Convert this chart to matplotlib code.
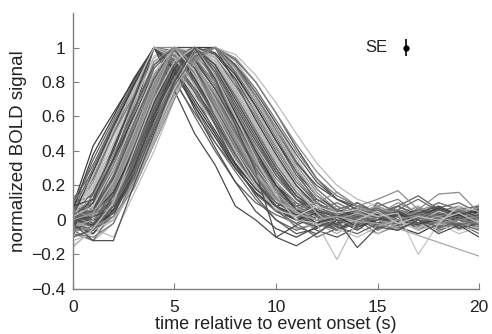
import matplotlib
matplotlib.use("Agg")
import matplotlib.pyplot as plt

plt.rcParams['font.family'] = ['Liberation Sans', 'DejaVu Sans']

time_s = list(range(21))

# normalized BOLD responses, one list per trace (t = 0..20 s)
peak4 = [
    [0.08,0.43,0.62,0.81,1.00,0.88,0.70,0.52,0.33,0.18,0.08,0.02,0.05,0.00,-0.03,0.04,0.02,-0.02,0.03,0.00,-0.04],
    [0.05,0.30,0.55,0.78,1.00,0.82,0.60,0.40,0.22,0.10,0.03,-0.02,0.04,0.06,0.00,-0.04,0.02,0.05,0.01,-0.03,0.02],
    [0.00,0.20,0.48,0.74,1.00,0.90,0.72,0.55,0.35,0.18,0.06,0.00,-0.05,0.02,0.08,0.03,-0.02,0.00,0.06,0.04,0.00],
    [-0.05,0.15,0.40,0.70,1.00,0.75,0.50,0.32,0.08,0.00,-0.10,-0.03,0.02,-0.05,0.00,0.05,-0.02,0.03,-0.04,0.00,0.03],
    [0.10,0.25,0.50,0.72,1.00,0.95,0.80,0.62,0.42,0.25,0.12,0.05,0.00,0.03,-0.02,0.06,0.03,0.00,0.08,0.02,-0.02],
    [0.02,0.12,0.35,0.68,1.00,0.85,0.66,0.45,0.28,0.12,0.00,-0.06,-0.02,0.04,0.01,-0.05,0.00,0.07,0.02,-0.03,0.05],
    [-0.08,0.05,0.30,0.62,1.00,0.92,0.76,0.58,0.38,0.20,0.08,0.10,0.02,-0.04,0.05,0.00,0.04,-0.06,0.00,0.05,0.01],
    [0.06,0.35,0.58,0.80,1.00,0.80,0.62,0.45,0.30,0.15,0.05,0.00,0.06,0.02,-0.03,0.10,0.04,0.00,-0.02,0.06,0.03],
    [0.03,0.18,0.45,0.75,1.00,0.97,0.85,0.65,0.45,0.28,0.14,0.05,-0.03,0.00,0.05,0.02,-0.04,0.03,0.00,-0.02,0.04],
    [-0.03,0.10,0.42,0.70,1.00,0.88,0.64,0.42,0.22,0.05,-0.05,-0.10,-0.04,0.00,-0.06,0.02,0.00,-0.03,0.04,-0.05,-0.02],
    [0.04,0.22,0.50,0.78,1.00,1.00,0.82,0.60,0.40,0.22,0.10,0.04,0.00,0.06,0.03,-0.02,0.05,0.02,-0.03,0.04,0.00],
    [0.12,0.28,0.52,0.80,1.00,0.93,0.74,0.50,0.30,0.16,0.06,0.02,0.08,0.04,0.10,0.03,0.06,0.12,0.05,0.08,0.02],
    [0.06,0.38,0.60,0.82,1.00,0.86,0.66,0.48,0.30,0.16,0.06,0.00,0.03,-0.02,0.04,0.00,0.05,0.02,-0.03,0.02,0.00],
    [0.10,0.32,0.56,0.79,1.00,0.90,0.74,0.56,0.38,0.22,0.10,0.04,0.00,0.05,0.02,0.07,0.00,0.04,0.06,0.01,0.03],
    [0.00,0.26,0.52,0.76,1.00,0.94,0.78,0.60,0.40,0.24,0.12,0.05,0.02,-0.03,0.00,0.04,-0.02,0.00,0.05,0.02,-0.01],
    [0.04,0.16,0.42,0.72,1.00,0.98,0.88,0.70,0.50,0.32,0.18,0.08,0.03,0.00,0.06,0.02,0.04,-0.02,0.00,0.03,0.06],
    [-0.04,0.08,0.36,0.66,1.00,0.96,0.82,0.64,0.44,0.26,0.12,0.02,-0.04,0.02,-0.02,0.00,0.03,-0.04,0.02,0.00,-0.03],
    [0.05,0.24,0.50,0.76,1.00,0.92,0.76,0.56,0.36,0.20,0.08,0.02,-0.02,0.03,0.00,-0.03,0.02,0.04,0.00,0.02,-0.02],
    [0.02,0.28,0.54,0.78,1.00,0.87,0.68,0.50,0.32,0.18,0.08,0.03,0.06,0.00,0.04,0.08,0.02,0.00,0.04,0.00,0.05],
]
peak5 = [
    [0.00,0.05,0.25,0.52,0.80,1.00,0.85,0.65,0.45,0.25,0.10,0.03,-0.02,0.04,0.00,-0.05,0.03,0.01,-0.02,0.05,0.00],
    [-0.05,-0.02,0.18,0.45,0.75,1.00,0.90,0.72,0.50,0.30,0.14,0.05,0.00,-0.04,0.02,0.06,0.00,-0.03,0.04,0.00,-0.05],
    [0.05,0.10,0.30,0.58,0.82,1.00,0.80,0.58,0.38,0.20,0.06,-0.04,-0.08,0.00,0.05,-0.02,0.03,0.08,0.00,0.02,0.06],
    [0.02,0.00,0.20,0.48,0.78,1.00,0.95,0.78,0.56,0.35,0.18,0.08,0.02,0.05,-0.02,0.03,0.10,0.04,-0.01,0.03,0.00],
    [-0.10,-0.05,0.15,0.40,0.70,1.00,0.88,0.66,0.44,0.22,0.05,-0.02,-0.10,-0.05,0.00,-0.08,-0.03,0.00,-0.06,-0.02,-0.08],
    [0.08,0.12,0.35,0.60,0.85,1.00,0.82,0.62,0.40,0.22,0.08,0.00,0.04,-0.03,0.06,0.00,-0.04,0.02,0.07,0.03,0.05],
    [0.00,-0.08,0.10,0.38,0.72,1.00,0.92,0.70,0.48,0.26,0.12,0.02,-0.04,0.03,0.00,0.05,0.02,-0.05,0.00,0.04,-0.03],
    [0.03,0.08,0.28,0.55,0.80,1.00,0.86,0.68,0.50,0.32,0.16,0.06,0.00,-0.02,0.04,0.00,0.06,0.02,-0.04,0.01,0.04],
    [-0.02,0.02,0.22,0.50,0.78,1.00,0.78,0.55,0.32,0.14,0.00,-0.08,-0.05,0.02,-0.03,0.04,0.00,-0.06,0.02,0.00,-0.04],
    [0.06,0.00,0.18,0.46,0.76,1.00,0.94,0.80,0.60,0.40,0.22,0.10,0.04,0.00,0.07,0.03,0.00,0.05,0.10,0.06,0.02],
    [-0.06,-0.12,0.05,0.35,0.68,1.00,0.90,0.74,0.52,0.30,0.12,0.04,0.00,-0.06,-0.02,0.02,-0.05,0.00,0.03,-0.03,0.00],
    [0.00,0.04,0.20,0.48,0.78,1.00,1.00,0.80,0.58,0.36,0.18,0.08,0.02,0.06,0.00,0.04,-0.02,0.03,0.00,0.06,0.02],
    [0.10,0.06,0.26,0.56,0.84,1.00,0.84,0.64,0.42,0.24,0.10,0.05,0.10,0.04,0.00,0.08,0.12,0.03,0.05,0.00,0.07],
    [-0.04,0.03,0.24,0.50,0.76,1.00,0.92,0.70,0.46,0.24,0.08,-0.05,-0.02,-0.08,0.00,-0.04,0.02,-0.02,-0.07,0.00,-0.03],
    [0.02,-0.04,0.14,0.42,0.74,1.00,0.88,0.68,0.48,0.28,0.13,0.06,0.02,0.00,0.04,-0.02,0.05,0.00,0.02,-0.04,0.03],
    [0.02,0.14,0.38,0.64,0.92,1.00,0.86,0.66,0.46,0.28,0.14,0.06,0.00,0.03,0.05,0.00,-0.02,0.04,0.02,0.06,0.00],
    [0.07,0.20,0.44,0.70,0.95,1.00,0.90,0.72,0.52,0.34,0.18,0.08,0.04,0.08,0.02,0.06,0.03,0.00,0.05,0.02,0.07],
    [-0.02,0.06,0.30,0.58,0.88,1.00,0.92,0.76,0.56,0.36,0.20,0.10,0.03,0.00,-0.03,0.02,0.00,0.05,-0.02,0.00,0.02],
    [0.00,0.10,0.32,0.62,0.90,1.00,0.96,0.82,0.62,0.42,0.24,0.12,0.05,0.02,0.00,0.04,0.06,0.02,0.00,-0.02,0.03],
    [0.05,0.02,0.16,0.44,0.74,1.00,0.97,0.84,0.66,0.46,0.28,0.14,0.06,0.00,0.04,0.08,0.02,0.00,0.04,0.07,0.02],
    [0.02,0.12,0.36,0.64,0.90,1.00,0.80,0.60,0.40,0.22,0.08,0.00,-0.04,0.00,0.02,-0.02,0.04,0.00,0.06,0.02,-0.02],
    [-0.05,0.04,0.26,0.54,0.82,1.00,0.88,0.70,0.50,0.30,0.14,0.04,-0.02,-0.06,0.00,0.03,-0.03,0.02,0.00,-0.05,0.01],
    [0.08,0.18,0.40,0.68,0.94,1.00,0.84,0.64,0.44,0.26,0.12,0.06,0.08,0.02,0.05,0.10,0.04,0.08,0.02,0.04,0.09],
    [0.00,0.06,0.24,0.52,0.80,1.00,0.93,0.76,0.54,0.34,0.16,0.06,0.00,0.02,-0.02,0.00,0.03,0.00,-0.03,0.02,0.00],
    [0.03,0.10,0.34,0.62,0.88,1.00,0.86,0.68,0.50,0.32,0.18,0.08,0.02,0.06,0.00,0.04,0.02,-0.02,0.03,0.00,0.02],
    [-0.04,0.00,0.20,0.48,0.78,1.00,0.90,0.74,0.54,0.34,0.16,0.05,-0.02,0.00,0.04,0.00,-0.04,0.00,0.02,-0.02,0.00],
    [-0.06,0.00,0.16,0.44,0.76,1.00,0.94,0.78,0.58,0.38,0.20,0.08,0.00,-0.05,-0.02,0.02,-0.04,-0.08,-0.02,0.00,-0.03],
    [0.10,0.14,0.30,0.56,0.82,1.00,0.90,0.72,0.52,0.32,0.16,0.08,0.12,0.06,0.10,0.04,0.08,0.03,0.10,0.06,0.08],
]
peak6 = [
    [0.00,-0.05,-0.10,0.15,0.40,0.70,1.00,0.95,0.78,0.58,0.38,0.20,0.08,0.02,-0.02,0.03,0.00,0.05,-0.03,0.02,0.00],
    [0.04,-0.02,0.08,0.32,0.62,0.86,1.00,0.88,0.68,0.48,0.28,0.12,0.04,0.00,0.06,0.02,-0.03,0.04,0.00,0.05,0.02],
    [-0.08,-0.10,-0.02,0.25,0.55,0.82,1.00,0.90,0.72,0.52,0.32,0.16,0.05,-0.02,0.03,-0.04,0.00,0.02,-0.05,0.00,-0.02],
    [0.02,0.05,0.10,0.36,0.64,0.88,1.00,0.84,0.62,0.40,0.20,0.06,-0.02,0.00,-0.05,0.02,0.04,-0.03,0.02,0.05,0.00],
    [-0.02,-0.06,0.02,0.28,0.58,0.84,1.00,0.96,0.82,0.62,0.42,0.24,0.10,0.04,0.00,0.06,0.02,0.00,0.04,-0.02,0.03],
    [0.06,0.00,0.12,0.38,0.66,0.90,1.00,0.86,0.64,0.44,0.26,0.12,0.06,0.10,0.04,0.00,0.08,0.14,0.06,0.02,0.08],
    [-0.12,-0.08,0.00,0.22,0.50,0.78,1.00,0.92,0.74,0.54,0.34,0.18,0.06,0.00,-0.04,-0.08,-0.02,-0.05,0.00,-0.06,-0.03],
    [0.00,0.02,0.06,0.30,0.60,0.85,1.00,0.90,0.70,0.50,0.30,0.14,0.05,0.02,0.06,0.03,-0.01,0.04,0.08,0.03,0.06],
    [0.03,-0.04,0.04,0.26,0.56,0.80,1.00,0.94,0.76,0.56,0.36,0.20,0.08,0.03,0.00,0.04,0.06,0.00,-0.03,0.02,0.05],
    [-0.05,0.00,0.08,0.34,0.62,0.87,1.00,0.82,0.60,0.38,0.18,0.04,-0.04,-0.02,0.02,-0.06,0.00,0.03,-0.02,0.00,-0.05],
    [0.00,-0.03,0.05,0.28,0.56,0.82,1.00,1.00,0.80,0.58,0.38,0.20,0.08,0.02,0.00,0.05,0.02,-0.02,0.03,0.00,0.02],
    [0.08,0.04,0.14,0.40,0.68,0.90,1.00,0.88,0.66,0.46,0.28,0.14,0.06,0.02,0.08,0.05,0.00,0.03,0.07,0.10,0.04],
    [-0.15,-0.06,0.00,0.20,0.50,0.76,1.00,0.94,0.76,0.56,0.36,0.18,0.04,-0.05,-0.10,-0.04,0.00,-0.06,-0.02,-0.08,-0.04],
    [0.02,0.06,0.16,0.42,0.70,0.92,1.00,0.80,0.56,0.34,0.16,0.02,-0.06,-0.10,-0.04,0.00,-0.03,0.02,-0.05,0.00,-0.02],
    [-0.06,-0.02,0.12,0.40,0.70,0.96,1.00,0.90,0.70,0.50,0.30,0.14,0.04,-0.02,0.00,-0.05,0.02,-0.03,0.00,0.02,-0.04],
    [0.01,0.00,0.14,0.42,0.72,0.95,1.00,0.92,0.74,0.54,0.34,0.18,0.08,0.04,0.00,0.03,0.00,0.06,0.02,0.00,0.04],
    [-0.03,-0.08,0.06,0.30,0.60,0.88,1.00,0.97,0.84,0.66,0.46,0.28,0.14,0.06,0.02,-0.02,0.03,0.00,-0.04,0.02,0.00],
    [-0.10,-0.06,0.08,0.34,0.64,0.90,1.00,0.86,0.66,0.46,0.26,0.12,0.02,-0.04,-0.08,-0.02,-0.06,0.00,-0.04,-0.02,-0.06],
    [0.04,0.08,0.20,0.46,0.74,0.94,1.00,0.86,0.64,0.42,0.22,0.08,0.00,-0.03,0.02,0.05,0.00,0.02,-0.02,0.04,0.00],
    [-0.02,0.02,0.12,0.36,0.64,0.88,1.00,0.90,0.72,0.52,0.32,0.16,0.06,0.02,0.05,0.00,-0.02,0.04,0.00,0.03,0.05],
    [0.06,0.04,0.18,0.44,0.72,0.92,1.00,0.94,0.80,0.62,0.42,0.24,0.10,0.04,0.00,0.05,0.02,0.00,0.07,0.03,0.00],
    [0.00,-0.04,0.08,0.32,0.60,0.86,1.00,0.94,0.78,0.60,0.40,0.22,0.10,0.03,0.00,0.02,0.04,0.00,-0.02,0.03,0.00],
    [0.00,0.04,0.16,0.40,0.68,0.92,1.00,0.84,0.62,0.40,0.20,0.06,-0.02,0.02,-0.04,0.00,0.04,-0.02,0.00,0.03,-0.02],
]
peak7 = [
    [0.00,0.00,0.05,0.25,0.50,0.75,0.95,1.00,0.88,0.70,0.50,0.30,0.14,0.06,0.02,0.00,0.04,0.02,-0.02,0.03,0.00],
    [-0.04,-0.02,0.02,0.20,0.46,0.72,0.92,1.00,0.92,0.76,0.56,0.36,0.18,0.08,0.03,0.06,0.00,0.03,0.05,0.00,0.02],
    [0.05,0.02,0.10,0.30,0.56,0.80,0.96,1.00,0.85,0.66,0.46,0.26,0.12,0.05,0.00,0.03,-0.02,0.04,0.00,0.06,0.03],
    [-0.06,-0.04,0.00,0.22,0.48,0.74,0.94,1.00,0.90,0.72,0.52,0.32,0.16,0.06,-0.02,0.00,-0.04,0.02,-0.03,0.00,-0.05],
    [0.02,0.04,0.08,0.28,0.54,0.78,0.95,1.00,0.86,0.68,0.48,0.28,0.10,0.00,-0.04,0.02,0.00,-0.02,0.04,0.00,-0.03],
    [0.00,-0.03,0.04,0.24,0.52,0.76,0.97,1.00,0.93,0.80,0.62,0.42,0.24,0.12,0.06,0.04,0.08,0.02,0.06,0.03,0.05],
    [-0.02,0.00,0.06,0.26,0.50,0.74,0.93,1.00,0.89,0.72,0.54,0.34,0.18,0.08,0.02,-0.03,0.00,0.04,0.00,-0.04,0.00],
    [0.04,0.06,0.12,0.34,0.60,0.82,0.96,1.00,0.84,0.64,0.44,0.24,0.08,0.00,0.05,0.02,0.06,0.00,0.03,0.05,0.02],
    [0.03,0.00,0.04,0.24,0.54,0.80,0.98,1.00,0.90,0.74,0.56,0.38,0.22,0.12,0.06,0.02,0.05,0.00,0.03,0.06,0.01],
    [-0.07,-0.04,0.02,0.18,0.44,0.70,0.92,1.00,0.94,0.80,0.62,0.44,0.28,0.16,0.08,0.04,0.00,0.03,-0.02,0.00,0.02],
    [0.00,0.02,0.08,0.22,0.48,0.76,0.94,1.00,0.96,0.84,0.68,0.50,0.33,0.20,0.12,0.08,0.04,0.06,0.02,0.05,0.03],
    [0.00,-0.04,0.04,0.26,0.54,0.78,0.94,1.00,0.88,0.72,0.52,0.33,0.20,0.12,0.08,0.05,0.02,0.06,0.03,0.00,0.04],
    [0.02,0.00,0.10,0.30,0.56,0.82,0.96,1.00,0.90,0.76,0.58,0.40,0.24,0.14,0.08,0.04,0.06,0.02,0.04,0.00,0.02],
    [-0.08,-0.12,-0.02,0.20,0.48,0.76,0.96,1.00,0.88,0.70,0.50,0.30,0.14,0.04,0.00,-0.04,0.00,-0.06,-0.02,-0.04,0.00],
]
outliers = [
    [-0.16,-0.05,0.10,0.40,0.70,0.92,1.00,0.84,0.60,0.36,0.14,0.00,-0.02,-0.23,0.00,0.05,-0.02,0.02,0.00,0.04,-0.02],
    [0.02,0.08,0.30,0.58,0.85,1.00,0.86,0.62,0.40,0.20,0.06,0.02,0.08,0.04,0.06,0.02,0.04,-0.20,-0.02,0.08,0.05],
    [0.00,0.04,0.22,0.50,0.80,1.00,0.90,0.70,0.48,0.28,0.12,0.04,0.00,0.02,-0.01,-0.02,-0.05,-0.09,-0.13,-0.17,-0.21],
    [-0.02,-0.12,-0.12,0.20,0.50,0.80,1.00,0.82,0.55,0.28,-0.10,-0.15,-0.08,0.00,-0.16,-0.04,-0.06,0.00,-0.08,-0.03,-0.10],
    [0.05,0.02,0.20,0.48,0.78,1.00,0.90,0.68,0.46,0.26,0.12,0.06,0.10,0.16,0.08,0.12,0.17,0.06,0.15,0.16,0.04],
]

grays = ['#3c3c3c', '#6a6a6a', '#8a8a8a', '#555555', '#a6a6a6', '#7a7a7a', '#4a4a4a', '#bcbcbc', '#626262']
outlier_grays = ['#bdbdbd', '#c4c4c4', '#a8a8a8', '#505050', '#8c8c8c']

fig = plt.figure(figsize=(4.92, 3.34), dpi=100)
ax = fig.add_axes([0.148, 0.135, 0.826, 0.826])

traces = []
for grp in (peak4, peak5, peak6, peak7):
    traces.extend(grp)
n = len(traces)
order = sorted(range(n), key=lambda i: (i * 17) % n)
for k, i in enumerate(order):
    ax.plot(time_s, traces[i], color=grays[k % len(grays)], lw=0.9)
for k, tr in enumerate(outliers):
    ax.plot(time_s, tr, color=outlier_grays[k], lw=0.9)

# SE indicator
ax.errorbar([16.4], [1.0], yerr=[0.05], fmt='o', color='black', ms=3.5, elinewidth=1.2, capsize=0)
ax.text(15.5, 1.0, 'SE', ha='right', va='center', fontsize=12, color='#222222')

ax.set_xlim(0, 20)
ax.set_ylim(-0.4, 1.2)
ax.set_xticks([0, 5, 10, 15, 20])
ax.set_yticks([-0.4, -0.2, 0, 0.2, 0.4, 0.6, 0.8, 1.0])
ax.set_yticklabels(['\u22120.4', '\u22120.2', '0', '0.2', '0.4', '0.6', '0.8', '1'])
for s in ('top', 'right'):
    ax.spines[s].set_visible(False)
for s in ('left', 'bottom'):
    ax.spines[s].set_color('#808080')
    ax.spines[s].set_linewidth(1.0)
ax.tick_params(axis='y', direction='in', length=4, width=0.8, color='#808080', labelsize=12.5, labelcolor='#222222', pad=5)
ax.tick_params(axis='x', direction='in', length=4, width=0.8, color='#808080', labelsize=12.5, labelcolor='#222222', pad=8)
ax.set_xlabel('time relative to event onset (s)', fontsize=13, color='#222222', labelpad=1)
ax.set_ylabel('normalized BOLD signal', fontsize=13.5, color='#222222', labelpad=3)

fig.savefig('out.png', dpi=100)
